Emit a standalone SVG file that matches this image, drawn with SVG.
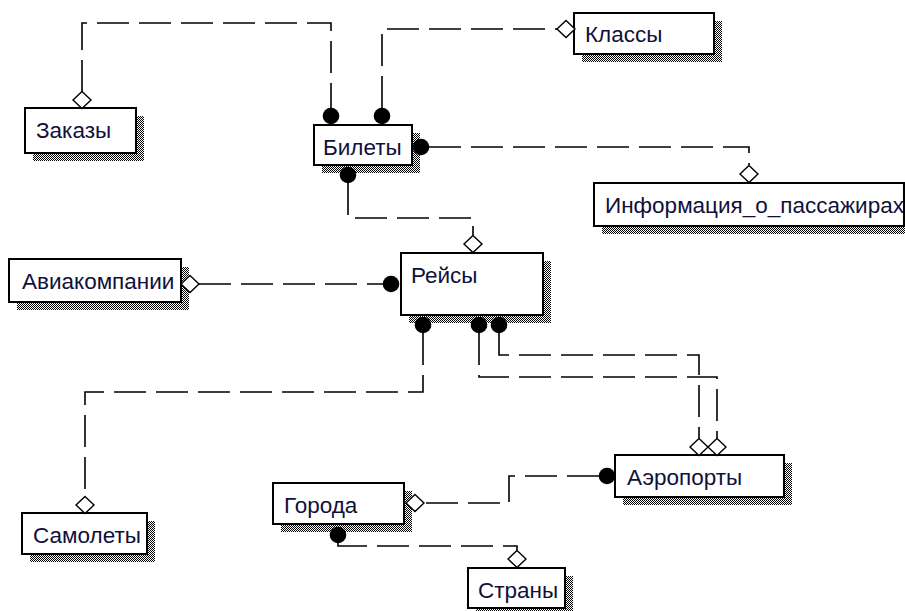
<svg xmlns="http://www.w3.org/2000/svg" xmlns:xlink="http://www.w3.org/1999/xlink" width="905" height="611" viewBox="0 0 905 611">
<style>
.box{fill:#fff;stroke:#000;stroke-width:2}
.shd{fill:url(#hatch)}
.lbl{font-family:"Liberation Sans",Arial,sans-serif;font-size:22.5px;fill:#10103a}
.con{fill:none;stroke:#000;stroke-width:1.6;stroke-dasharray:32 10}
.dia{fill:#fff;stroke:#000;stroke-width:1.4}
.dot{fill:#000}
</style>
<defs>
<pattern id="hatch" width="2" height="2" patternUnits="userSpaceOnUse">
<rect x="0" y="0" width="2" height="2" fill="#fff"/>
<rect x="0" y="0" width="1" height="1" fill="#000"/>
<rect x="1" y="1" width="1" height="1" fill="#000"/>
</pattern>
<polygon id="dm" class="dia" points="0,-8.5 9,0 0,8.5 -9,0"/>
<circle id="dt" class="dot" r="8.3"/>
</defs>
<rect width="905" height="611" fill="#fff"/>

<g id="node-zakazy">
<rect class="shd" x="33" y="116" width="111" height="45"/>
<rect class="box" x="25" y="108" width="111" height="45"/>
<text class="lbl" x="36" y="138">Заказы</text>
</g>
<g id="node-bilety">
<rect class="shd" x="322" y="133" width="98" height="40"/>
<rect class="box" x="314" y="125" width="98" height="40"/>
<text class="lbl" x="323" y="155">Билеты</text>
</g>
<g id="node-klassy">
<rect class="shd" x="582" y="21" width="140" height="41"/>
<rect class="box" x="574" y="13" width="140" height="41"/>
<text class="lbl" x="585" y="42">Классы</text>
</g>
<g id="node-info">
<rect class="shd" x="602" y="191" width="310" height="43"/>
<rect class="box" x="594" y="183" width="310" height="43"/>
<text class="lbl" x="605" y="213">Информация_о_пассажирах</text>
</g>
<g id="node-avia">
<rect class="shd" x="17" y="267" width="172" height="43"/>
<rect class="box" x="9" y="259" width="172" height="43"/>
<text class="lbl" x="22" y="289">Авиакомпании</text>
</g>
<g id="node-reisy">
<rect class="shd" x="409" y="261" width="142" height="62"/>
<rect class="box" x="401" y="253" width="142" height="62"/>
<text class="lbl" x="411" y="283">Рейсы</text>
</g>
<g id="node-samolety">
<rect class="shd" x="30" y="521" width="125" height="41"/>
<rect class="box" x="22" y="513" width="125" height="41"/>
<text class="lbl" x="33" y="543">Самолеты</text>
</g>
<g id="node-aeroporty">
<rect class="shd" x="623" y="463" width="169" height="42"/>
<rect class="box" x="615" y="455" width="169" height="42"/>
<text class="lbl" x="627" y="485">Аэропорты</text>
</g>
<g id="node-goroda">
<rect class="shd" x="281" y="491" width="131" height="41"/>
<rect class="box" x="273" y="483" width="131" height="41"/>
<text class="lbl" x="284" y="513">Города</text>
</g>
<g id="node-strany">
<rect class="shd" x="476" y="576" width="97" height="40"/>
<rect class="box" x="468" y="568" width="97" height="40"/>
<text class="lbl" x="478" y="598">Страны</text>
</g>

<g id="connectors">
<path class="con" d="M82,92 V23 H331 V108"/>
<use href="#dm" x="82" y="100"/>
<use href="#dt" x="331" y="116"/>

<path class="con" d="M382,108 V29 H558"/>
<use href="#dt" x="382" y="116"/>
<use href="#dm" x="566" y="29"/>

<path class="con" d="M429,147 H749 V165"/>
<use href="#dt" x="421" y="147"/>
<use href="#dm" x="749" y="174"/>

<path class="con" d="M348,183 V218 H473 V235"/>
<use href="#dt" x="348" y="175"/>
<use href="#dm" x="473" y="244"/>

<path class="con" d="M199,284 H383"/>
<use href="#dm" x="190" y="284"/>
<use href="#dt" x="391" y="284"/>

<path class="con" d="M423,333 V392 H85 V496"/>
<use href="#dt" x="423" y="325"/>
<use href="#dm" x="85" y="505"/>

<path class="con" d="M479,333 V377 H717 V438"/>
<use href="#dt" x="479" y="325"/>
<use href="#dm" x="717" y="447"/>

<path class="con" d="M499,333 V355 H699 V438"/>
<use href="#dt" x="499" y="325"/>
<use href="#dm" x="699" y="447"/>

<path class="con" d="M599,476 H509 V503 H424"/>
<use href="#dt" x="607" y="476"/>
<use href="#dm" x="415" y="503"/>

<path class="con" d="M338,543 V546 H517 V550"/>
<use href="#dt" x="338" y="535"/>
<use href="#dm" x="517" y="559"/>
</g>
</svg>
